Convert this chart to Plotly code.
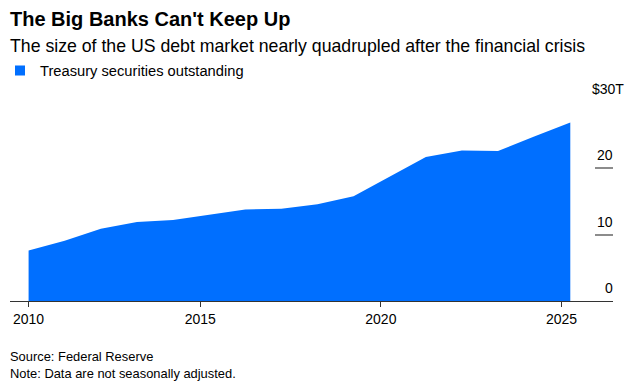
import plotly.graph_objects as go

# Data (Treasury securities outstanding, $ trillions, Q1 each year)
dates = ["2010-03-31", "2011-03-31", "2012-03-31", "2013-03-31", "2014-03-31",
         "2015-03-31", "2016-03-31", "2017-03-31", "2018-03-31", "2019-03-31",
         "2020-03-31", "2021-03-31", "2022-03-31", "2023-03-31", "2024-03-31",
         "2025-03-31"]
values = [7.6, 9.1, 10.9, 11.9, 12.2, 13.0, 13.8, 13.9, 14.6, 15.8,
          18.7, 21.7, 22.7, 22.6, 24.8, 26.9]

x_tickvals = ["2010-03-31", "2015-01-01", "2020-01-01", "2025-01-01"]
x_ticktext = ["2010", "2015", "2020", "2025"]
y_tickvals = [10, 20, 30]
y_labels = {0: "0", 10: "10", 20: "20", 30: "$30T"}

series_name = "Treasury securities outstanding"
blue = "#006FFF"
font_family = "Liberation Sans, Arial, sans-serif"

W, H = 635, 392
ML, MR, MT, MB = 10, 22, 102, 91
plot_top, plot_bottom = MT, H - MB
ph = plot_bottom - plot_top

fig = go.Figure()
fig.add_trace(go.Scatter(
    x=dates, y=values, mode="lines", fill="tozeroy",
    line=dict(width=0, color=blue), fillcolor=blue,
    showlegend=False, hoverinfo="x+y",
))
# legend entry (square swatch)
fig.add_trace(go.Scatter(
    x=[None], y=[None], mode="markers", name=series_name,
    marker=dict(symbol="square", size=10, color=blue),
    showlegend=True,
))

annotations = []
for v, t in y_labels.items():
    annotations.append(dict(
        x=1, xref="paper", y=v, yref="y", text=t, showarrow=False,
        xanchor="right", yanchor="middle", xshift=13 if t.endswith("T") else 2,
        yshift=13, font=dict(size=14, color="#000", family=font_family),
    ))
annotations.append(dict(
    x=0, xref="paper", y=(plot_bottom - 46) / ph, yref="paper",
    text="The size of the US debt market nearly quadrupled after the financial crisis",
    showarrow=False, xanchor="left", yanchor="middle", xshift=-2,
    font=dict(size=17.7, color="#000", family=font_family),
))
annotations.append(dict(
    x=0, xref="paper", y=(plot_bottom - 347) / ph, yref="paper",
    text="Source: Federal Reserve<br>Note: Data are not seasonally adjusted.",
    showarrow=False, xanchor="left", yanchor="top", align="left", xshift=-2,
    font=dict(size=12.9, color="#000", family=font_family),
))

fig.update_layout(
    width=W, height=H,
    margin=dict(l=ML, r=MR, t=MT, b=MB, autoexpand=False),
    paper_bgcolor="white", plot_bgcolor="white",
    title=dict(
        text="<b>The Big Banks Can't Keep Up</b>",
        x=10 / W, xanchor="left", xref="container",
        y=1 - 19 / H, yanchor="middle", yref="container",
        font=dict(size=20, color="#000", family=font_family),
    ),
    legend=dict(
        x=-9 / W, y=1 - 71 / H, xanchor="left", yanchor="middle",
        xref="container", yref="container",
        orientation="h", font=dict(size=14.7, color="#000", family=font_family),
        bgcolor="rgba(0,0,0,0)", itemclick=False,
    ),
    xaxis=dict(
        type="date", range=["2009-09-24", "2026-06-06"],
        tickvals=x_tickvals, ticktext=x_ticktext,
        ticks="outside", ticklen=5, tickcolor="#333", tickwidth=1,
        showline=True, linecolor="#333", linewidth=1,
        showgrid=False, zeroline=False, automargin=False,
        tickfont=dict(size=14, color="#000", family=font_family),
        fixedrange=True,
    ),
    yaxis=dict(
        range=[0, 30], side="right", tickvals=y_tickvals,
        showticklabels=False, ticks="inside", ticklen=18,
        tickcolor="#8c8c8c", tickwidth=1.5, automargin=False,
        showgrid=False, zeroline=False, showline=False,
        fixedrange=True,
    ),
    annotations=annotations,
    font=dict(family=font_family),
)

fig.write_html(
    "out.html",
    config={"displayModeBar": False},
    post_script="document.body.style.margin='0';document.body.style.overflow='hidden';",
)
